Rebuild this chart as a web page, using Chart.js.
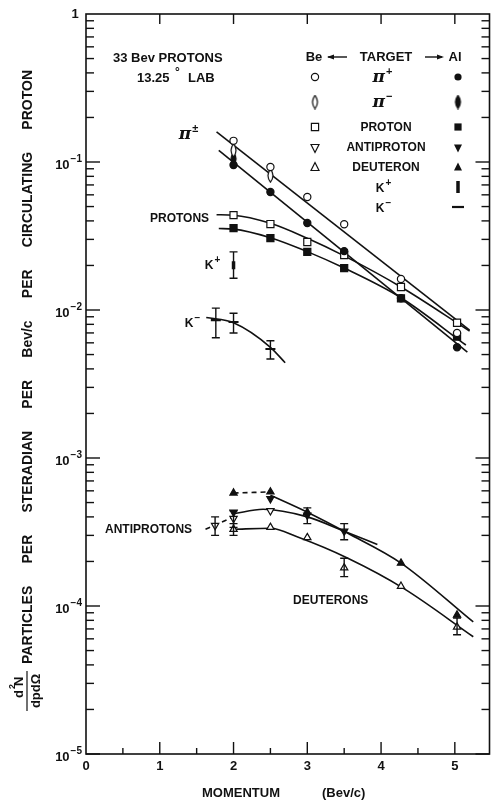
<!DOCTYPE html>
<html>
<head>
<meta charset="utf-8">
<script src="https://cdn.jsdelivr.net/npm/chart.js@4.4.0/dist/chart.umd.min.js"></script>
<style>
  html, body { margin: 0; padding: 0; background: #fff; }
  #c { display: block; }
</style>
</head>
<body>
<canvas id="c" width="497" height="806"></canvas>
<script>
/* ── DATA ───────────────────────────────────────────────── */
const MOM      = [2, 2.5, 3, 3.5, 4.27, 5.03];
const PIP_BE   = [0.139, 0.0925, 0.058, 0.038, 0.0162, 0.0070];
const PIP_AL   = [0.0955, 0.0627, 0.0387, 0.025, 0.012, 0.0056];
const PROT_BE  = [0.0438, 0.0381, 0.0288, 0.0235, 0.0143, 0.0082];
const PROT_AL  = [0.0358, 0.0306, 0.0247, 0.0192, 0.0120, 0.0066];
const PIM_BE_X = [2, 2.5];
const PIM_BE   = [0.120, 0.081];
const PIM_AL_X = [2];
const PIM_AL   = [0.105];

const KP_X  = [2];
const KP    = [0.0201];
const KP_LO = [0.0164];
const KP_HI = [0.0247];
const KM_X  = [1.76, 2, 2.5];
const KM    = [0.00855, 0.0083, 0.00545];
const KM_LO = [0.0065, 0.0070, 0.00467];
const KM_HI = [0.0103, 0.0095, 0.0062];

const PBAR_BE_X  = [1.75, 2, 2.5];
const PBAR_BE    = [3.5e-4, 3.9e-4, 4.4e-4];
const PBAR_BE_LO = [3.0e-4, 3.4e-4, null];
const PBAR_BE_HI = [4.0e-4, 4.4e-4, null];
const PBAR_AL_X  = [2, 2.5, 3, 3.5];
const PBAR_AL    = [4.3e-4, 5.3e-4, 4.1e-4, 3.2e-4];
const PBAR_AL_LO = [null, null, 3.6e-4, 2.8e-4];
const PBAR_AL_HI = [null, null, 4.6e-4, 3.6e-4];
const DEUT_AL_X  = [2, 2.5, 3, 4.27, 5.03];
const DEUT_AL    = [5.8e-4, 5.9e-4, 4.3e-4, 1.95e-4, 8.7e-5];
const DEUT_BE_X  = [2, 2.5, 3, 3.5, 4.27, 5.03];
const DEUT_BE    = [3.3e-4, 3.4e-4, 2.9e-4, 1.81e-4, 1.36e-4, 7.2e-5];
const DEUT_BE_LO = [3.0e-4, null, null, 1.58e-4, null, 6.4e-5];
const DEUT_BE_HI = [3.6e-4, null, null, 2.1e-4, null, 8.3e-5];

/* fitted curves as drawn in the figure */
const PI_BE_FIT_X   = [1.77, 5.2];
const PI_BE_FIT     = [0.16, 0.0073];
const PI_AL_FIT_X   = [1.8, 5.17];
const PI_AL_FIT     = [0.12, 0.0052];
const PROT_BE_FIT_X = [1.77, 2, 2.5, 3, 3.5, 4.27, 5.2];
const PROT_BE_FIT   = [0.044, 0.0437, 0.0385, 0.0305, 0.0232, 0.0143, 0.0072];
const PROT_AL_FIT_X = [1.8, 2, 2.5, 3, 3.5, 4.27, 5.15];
const PROT_AL_FIT   = [0.0355, 0.0352, 0.0308, 0.0248, 0.0192, 0.0121, 0.0058];
const KM_FIT_X      = [1.63, 2, 2.5, 2.7];
const KM_FIT        = [0.0089, 0.0082, 0.0056, 0.0044];
const PBAR_DASH_X   = [1.62, 2.0];
const PBAR_DASH     = [3.3e-4, 4.0e-4];
const PBAR_FIT_X    = [2.0, 2.4, 3.0, 3.5, 3.95];
const PBAR_FIT      = [4.2e-4, 4.5e-4, 4.0e-4, 3.2e-4, 2.6e-4];
const DEUT_AL_DASH_X = [2.0, 2.5];
const DEUT_AL_DASH   = [5.8e-4, 5.9e-4];
const DEUT_AL_FIT_X = [2.5, 3, 3.55, 4.27, 5.25];
const DEUT_AL_FIT   = [5.6e-4, 4.3e-4, 3.1e-4, 1.95e-4, 7.8e-5];
const DEUT_BE_FIT_X = [2.0, 2.5, 2.87, 3.55, 4.31, 5.25];
const DEUT_BE_FIT   = [3.3e-4, 3.35e-4, 2.92e-4, 2.1e-4, 1.31e-4, 6.2e-5];

const X_TICKS = [0, 1, 2, 3, 4, 5];
const Y_EXP   = [0, -1, -2, -3, -4, -5];

/* ── helpers ─────────────────────────────────────────────── */
const pts = (xs, ys) => xs.map((x, i) => ({ x: x, y: ys[i] }));
const INK = '#111';
const F = (size, extra) => (extra || 'bold') + ' ' + size + 'px "Liberation Sans", Arial, sans-serif';

function lens(filled) {
    const c = document.createElement('canvas');
    c.width = 9; c.height = 15;
    const g = c.getContext('2d');
    g.beginPath();
    g.moveTo(4.5, 0.8);
    g.quadraticCurveTo(9.5, 7.5, 4.5, 14.2);
    g.quadraticCurveTo(-0.5, 7.5, 4.5, 0.8);
    g.closePath();
    g.fillStyle = filled ? INK : '#fff';
    g.fill();
    g.lineWidth = 1.2; g.strokeStyle = INK; g.stroke();
    return c;
}
const LENS_OPEN = lens(false), LENS_FILL = lens(true);

function marks(label, xs, ys, style, filled, extra) {
    return Object.assign({
        label: label, type: 'scatter', data: pts(xs, ys), order: 0,
        pointStyle: style, pointRadius: 3.6, pointHoverRadius: 3.6,
        backgroundColor: filled ? INK : '#fff', borderColor: INK,
        pointBorderWidth: 1.2, showLine: false
    }, extra || {});
}
function curve(label, xs, ys, dash) {
    return {
        label: label, type: 'line', data: pts(xs, ys), order: 1,
        borderColor: INK, borderWidth: 1.6, pointRadius: 0,
        borderDash: dash ? [5, 4] : [], fill: false,
        cubicInterpolationMode: 'monotone'
    };
}

/* ── error bars, frame, ticks, texts ─────────────────────── */
const errorBars = {
    id: 'errorBars',
    afterDatasetsDraw(chart) {
        const ctx = chart.ctx, ys = chart.scales.y, xs = chart.scales.x;
        ctx.save();
        ctx.strokeStyle = INK; ctx.lineWidth = 1.4;
        chart.data.datasets.forEach(ds => {
            if (!ds.errLo) return;
            ds.data.forEach((p, i) => {
                if (ds.errLo[i] == null) return;
                const px = xs.getPixelForValue(p.x);
                const y1 = ys.getPixelForValue(ds.errLo[i]);
                const y2 = ys.getPixelForValue(ds.errHi[i]);
                ctx.beginPath();
                ctx.moveTo(px, y1); ctx.lineTo(px, y2);
                ctx.moveTo(px - 4, y1); ctx.lineTo(px + 4, y1);
                ctx.moveTo(px - 4, y2); ctx.lineTo(px + 4, y2);
                ctx.stroke();
            });
        });
        ctx.restore();
    }
};

function line(ctx, x1, y1, x2, y2) {
    ctx.beginPath(); ctx.moveTo(x1, y1); ctx.lineTo(x2, y2); ctx.stroke();
}
function sym(ctx, kind, x, y) {
    ctx.save();
    ctx.lineWidth = 1.2; ctx.strokeStyle = INK; ctx.fillStyle = INK;
    const r = 3.6;
    ctx.beginPath();
    if (kind === 'oc' || kind === 'fc') ctx.arc(x, y, r, 0, Math.PI * 2);
    else if (kind === 'os' || kind === 'fs') ctx.rect(x - 3.6, y - 3.6, 7.2, 7.2);
    else if (kind === 'od' || kind === 'fd') { ctx.moveTo(x - 4, y - 3.5); ctx.lineTo(x + 4, y - 3.5); ctx.lineTo(x, y + 4.5); ctx.closePath(); }
    else if (kind === 'ou' || kind === 'fu') { ctx.moveTo(x - 4, y + 3.5); ctx.lineTo(x + 4, y + 3.5); ctx.lineTo(x, y - 4.5); ctx.closePath(); }
    if (kind[0] === 'f') ctx.fill(); else { ctx.fillStyle = '#fff'; ctx.fill(); ctx.stroke(); }
    ctx.restore();
}
function supText(ctx, base, sup, x, y, font, supFont, align) {
    ctx.font = font;
    const bw = ctx.measureText(base).width;
    ctx.font = supFont;
    const sw = ctx.measureText(sup).width;
    let x0 = x;
    if (align === 'center') x0 = x - (bw + sw) / 2;
    if (align === 'right') x0 = x - (bw + sw);
    ctx.textAlign = 'left';
    ctx.font = font; ctx.fillText(base, x0, y);
    ctx.font = supFont; ctx.fillText(sup, x0 + bw + 1, y - 6);
}

const decor = {
    id: 'decor',
    afterDraw(chart) {
        const ctx = chart.ctx, a = chart.chartArea;
        const xs = chart.scales.x, ys = chart.scales.y;
        ctx.save();
        ctx.strokeStyle = INK; ctx.fillStyle = INK; ctx.lineWidth = 1.6;
        ctx.strokeRect(a.left, a.top, a.right - a.left, a.bottom - a.top);

        /* log ticks on both sides, inward */
        ctx.lineWidth = 1.4;
        for (let e = -5; e < 0; e++) {
            for (let m = 1; m <= 9; m++) {
                const py = ys.getPixelForValue(m * Math.pow(10, e));
                const len = m === 1 ? 14 : 8;
                line(ctx, a.left, py, a.left + len, py);
                line(ctx, a.right, py, a.right - len, py);
            }
        }
        /* x ticks: bottom integers + halves, top integers */
        for (let v = 0.5; v < xs.max; v += 0.5) {
            const px = xs.getPixelForValue(v);
            const whole = Math.abs(v - Math.round(v)) < 1e-6;
            line(ctx, px, a.bottom, px, a.bottom - (whole ? 12 : 6));
            if (whole) line(ctx, px, a.top, px, a.top + 10);
        }

        /* tick labels */
        ctx.textBaseline = 'middle';
        ctx.font = F(13);
        ctx.textAlign = 'center';
        X_TICKS.forEach(v => ctx.fillText(String(v), xs.getPixelForValue(v), a.bottom + 12));
        Y_EXP.forEach(e => {
            const py = ys.getPixelForValue(Math.pow(10, e));
            if (e === 0) {
                ctx.font = F(13);
                ctx.textAlign = 'center';
                ctx.fillText('1', 75, py);
            } else {
                supText(ctx, '10', '\u2212' + (-e), 81, py + 3, F(13), F(10), 'right');
            }
        });

        /* axis titles */
        ctx.textAlign = 'left';
        ctx.font = F(13);
        ctx.fillText('MOMENTUM', 202, 793);
        ctx.fillText('(Bev/c)', 322, 793);

        ctx.save();
        ctx.translate(28, 664);
        ctx.rotate(-Math.PI / 2);
        ctx.font = F(14);
        const words = ['PARTICLES', 'PER', 'STERADIAN', 'PER', 'Bev/c', 'PER', 'CIRCULATING', 'PROTON'];
        const total = 594;
        const wsum = words.reduce((s, w) => s + ctx.measureText(w).width, 0);
        const gap = (total - wsum) / (words.length - 1);
        let u = 0;
        words.forEach(w => { ctx.fillText(w, u, 0); u += ctx.measureText(w).width + gap; });
        ctx.restore();

        /* d2N / dp dOmega fraction */
        ctx.save();
        ctx.translate(27, 691);
        ctx.rotate(-Math.PI / 2);
        supText(ctx, 'd', '2', -7, -8, F(13), F(9), 'left');
        ctx.font = F(13);
        ctx.textAlign = 'left';
        ctx.fillText('N', 5, -8);
        ctx.lineWidth = 1.2;
        line(ctx, -20, 0, 20, 0);
        ctx.textAlign = 'center';
        ctx.fillText('dpd\u03A9', 0, 9);
        ctx.restore();

        /* header notes */
        ctx.font = F(13);
        ctx.textAlign = 'left';
        ctx.fillText('33 Bev PROTONS', 113, 58);
        ctx.fillText('13.25', 137, 78);
        ctx.font = F(12);
        ctx.fillText('\u00B0', 175, 73);
        ctx.font = F(13);
        ctx.fillText('LAB', 188, 78);

        /* legend block */
        const lf = F(12);
        const pif = 'italic bold 17px "DejaVu Serif", serif';
        ctx.font = F(13);
        ctx.textAlign = 'center';
        ctx.fillText('Be', 314, 57);
        ctx.fillText('TARGET', 386, 57);
        ctx.fillText('Al', 455, 57);
        ctx.lineWidth = 1.4;
        line(ctx, 328, 57, 347, 57);
        line(ctx, 425, 57, 442, 57);
        ctx.beginPath(); ctx.moveTo(327, 57); ctx.lineTo(334, 54.5); ctx.lineTo(334, 59.5); ctx.closePath(); ctx.fill();
        ctx.beginPath(); ctx.moveTo(444, 57); ctx.lineTo(437, 54.5); ctx.lineTo(437, 59.5); ctx.closePath(); ctx.fill();

        const BEX = 315, ALX = 458, TX = 386;
        sym(ctx, 'oc', BEX, 77); sym(ctx, 'fc', ALX, 77);
        ctx.drawImage(LENS_OPEN, BEX - 4.5, 102 - 7.5); ctx.drawImage(LENS_FILL, ALX - 4.5, 102 - 7.5);
        sym(ctx, 'os', BEX, 127); sym(ctx, 'fs', ALX, 127);
        sym(ctx, 'od', BEX, 148); sym(ctx, 'fd', ALX, 148);
        sym(ctx, 'ou', BEX, 167); sym(ctx, 'fu', ALX, 167);
        ctx.lineWidth = 3.5; line(ctx, ALX, 181, ALX, 193);
        ctx.lineWidth = 2.2; line(ctx, ALX - 6, 207, ALX + 6, 207);

        supText(ctx, '\u03C0', '+', TX - 4, 78, pif, F(11), 'center');
        supText(ctx, '\u03C0', '\u2212', TX - 4, 103, pif, F(11), 'center');
        ctx.font = lf; ctx.textAlign = 'center';
        ctx.fillText('PROTON', TX, 128);
        ctx.fillText('ANTIPROTON', TX, 148);
        ctx.fillText('DEUTERON', TX, 168);
        supText(ctx, 'K', '+', 383, 189, lf, F(10), 'center');
        supText(ctx, 'K', '\u2212', 383, 209, lf, F(10), 'center');

        /* curve labels */
        supText(ctx, '\u03C0', '\u00B1', 188, 135, pif, F(11), 'center');
        ctx.font = lf; ctx.textAlign = 'left';
        ctx.fillText('PROTONS', 150, 219);
        supText(ctx, 'K', '+', 212, 266, lf, F(10), 'center');
        supText(ctx, 'K', '\u2212', 192, 324, lf, F(10), 'center');
        ctx.font = lf; ctx.textAlign = 'left';
        ctx.fillText('ANTIPROTONS', 105, 530);
        ctx.fillText('DEUTERONS', 293, 601);
        ctx.restore();
    }
};

/* ── CHART ───────────────────────────────────────────────── */
new Chart(document.getElementById('c').getContext('2d'), {
    data: {
        datasets: [
            marks('pi+ Be', MOM, PIP_BE, 'circle', false),
            marks('pi+ Al', MOM, PIP_AL, 'circle', true),
            marks('pi- Be', PIM_BE_X, PIM_BE, LENS_OPEN, false),
            marks('pi- Al', PIM_AL_X, PIM_AL, LENS_FILL, true),
            marks('p Be', MOM, PROT_BE, 'rect', false, { pointRadius: 5 }),
            marks('p Al', MOM, PROT_AL, 'rect', true, { pointRadius: 5 }),
            marks('K+ Al', KP_X, KP, 'line', true, { rotation: 90, pointRadius: 4, pointBorderWidth: 3.5, errLo: KP_LO, errHi: KP_HI }),
            marks('K- Al', KM_X, KM, 'line', true, { pointRadius: 5, pointBorderWidth: 2.2, errLo: KM_LO, errHi: KM_HI }),
            marks('pbar Be', PBAR_BE_X, PBAR_BE, 'triangle', false, { rotation: 180, pointRadius: 4.2, errLo: PBAR_BE_LO, errHi: PBAR_BE_HI }),
            marks('pbar Al', PBAR_AL_X, PBAR_AL, 'triangle', true, { rotation: 180, pointRadius: 4.2, errLo: PBAR_AL_LO, errHi: PBAR_AL_HI }),
            marks('d Al', DEUT_AL_X, DEUT_AL, 'triangle', true, { pointRadius: 4.2 }),
            marks('d Be', DEUT_BE_X, DEUT_BE, 'triangle', false, { pointRadius: 4.2, errLo: DEUT_BE_LO, errHi: DEUT_BE_HI }),
            curve('pi Be fit', PI_BE_FIT_X, PI_BE_FIT),
            curve('pi Al fit', PI_AL_FIT_X, PI_AL_FIT),
            curve('p Be fit', PROT_BE_FIT_X, PROT_BE_FIT),
            curve('p Al fit', PROT_AL_FIT_X, PROT_AL_FIT),
            curve('K- fit', KM_FIT_X, KM_FIT),
            curve('pbar dash', PBAR_DASH_X, PBAR_DASH, true),
            curve('pbar fit', PBAR_FIT_X, PBAR_FIT),
            curve('d Al dash', DEUT_AL_DASH_X, DEUT_AL_DASH, true),
            curve('d Al fit', DEUT_AL_FIT_X, DEUT_AL_FIT),
            curve('d Be fit', DEUT_BE_FIT_X, DEUT_BE_FIT)
        ]
    },
    options: {
        responsive: false,
        animation: false,
        layout: { padding: { left: 86, right: 4, top: 14, bottom: 52 } },
        plugins: { legend: { display: false }, tooltip: { enabled: false } },
        scales: {
            x: { type: 'linear', min: 0, max: 5.47, display: false },
            y: { type: 'logarithmic', min: 1e-5, max: 1, display: false }
        }
    },
    plugins: [errorBars, decor]
});
</script>
</body>
</html>
